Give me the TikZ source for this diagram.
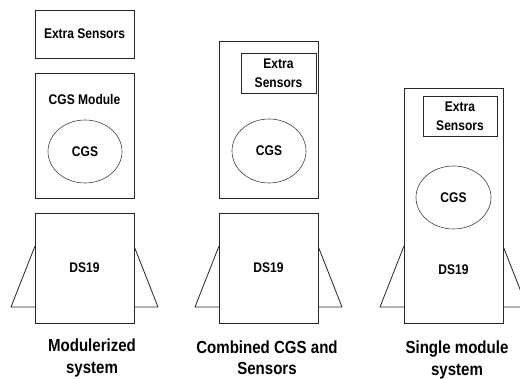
\documentclass[tikz,border=0pt]{standalone}
\usepackage{fontspec}
\newfontfamily\labfont[FakeStretch=0.86]{Liberation Sans Bold}
\usetikzlibrary{shapes.geometric}
\tikzset{
  box/.style={draw=black!85, line width=0.8pt, inner sep=0pt, align=center},
  blob/.style={draw=black!75, line width=0.6pt, ellipse, inner sep=0pt,
               font=\labfont\fontsize{14}{17}\selectfont},
  txt/.style={font=\labfont\fontsize{14}{19}\selectfont, align=center, inner sep=0pt},
  caption/.style={font=\labfont\fontsize{17.5}{22}\selectfont, align=center, inner sep=0pt},
  flap/.style={draw=black!85, line width=0.8pt}
}
\begin{document}
\begin{tikzpicture}[x=1pt,y=-1pt]
\useasboundingbox (0,0) rectangle (520,379);
\clip (0,0) rectangle (520,379);

% --- modularised system ---
\node[box, minimum width=99pt, minimum height=48pt, txt] (es1) at (84.5,34) {Extra Sensors};
\node[box, minimum width=99pt, minimum height=125pt] (mod1) at (84.5,135.5) {};
\node[txt] (modt1) at (84.5,99) {CGS Module};
\node[blob, minimum width=74pt, minimum height=63pt] (cgs1) at (85,151.5) {CGS};
\draw[flap] (35,246) -- (11,307) -- (35,307);
\draw[flap] (134,246) -- (158,307) -- (134,307);
\node[box, fill=white, minimum width=99pt, minimum height=110pt, txt] (ds1) at (84.5,268) {DS19};
\node[caption] (l1) at (92,357.5) {Modulerized\\system};

% --- combined CGS and sensors ---
\node[box, minimum width=99pt, minimum height=157pt] (mod2) at (268.5,119.5) {};
\node[box, minimum width=75pt, minimum height=40pt, txt] (es2) at (278.5,73) {Extra\\Sensors};
\node[blob, minimum width=74pt, minimum height=64pt] (cgs2) at (269,151) {CGS};
\draw[flap] (219,246) -- (195,307) -- (219,307);
\draw[flap] (318,246) -- (342,307) -- (318,307);
\node[box, fill=white, minimum width=99pt, minimum height=110pt, txt] (ds2) at (268.5,268) {DS19};
\node[caption, font=\labfont\fontsize{17.5}{21}\selectfont] (l2) at (267,357.5) {Combined CGS and\\Sensors};

% --- single module system ---
\draw[flap] (404,246) -- (380,307) -- (404,307);
\draw[flap] (503,246) -- (527,307) -- (503,307);
\node[box, fill=white, minimum width=99pt, minimum height=235pt] (mod3) at (453.5,205.5) {};
\node[box, minimum width=74pt, minimum height=40pt, txt] (es3) at (460,116) {Extra\\Sensors};
\node[blob, minimum width=75pt, minimum height=63pt] (cgs3) at (453.5,197.5) {CGS};
\node[txt] (ds3) at (453.5,270) {DS19};
\node[caption] (l3) at (457,359.5) {Single module\\system};
\end{tikzpicture}
\end{document}
